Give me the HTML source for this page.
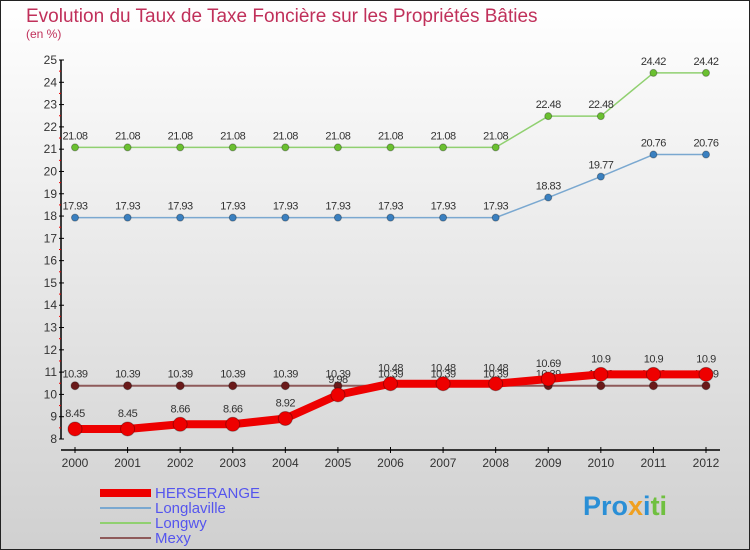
<!DOCTYPE html>
<html><head><meta charset="utf-8"><style>
body{margin:0}
#c{width:750px;height:550px;position:relative;overflow:hidden;font-family:"Liberation Sans",sans-serif}
</style></head><body>
<div id="c">
<svg id="s" width="750" height="550" xmlns="http://www.w3.org/2000/svg">
<defs><linearGradient id="bg" x1="0" y1="0" x2="0" y2="1"><stop offset="0" stop-color="#ffffff"/><stop offset="1" stop-color="#d0d0d0"/></linearGradient></defs>
<rect x="0.5" y="0.5" width="749" height="549" fill="url(#bg)" stroke="#222"/>
<text x="26" y="22" font-size="19" fill="#c0305a">Evolution du Taux de Taxe Foncière sur les Propriétés Bâties</text>
<text x="26" y="38" font-size="12" fill="#c0305a">(en %)</text>
<g id="axes"></g><g id="series"></g><g id="legend"></g>
<text x="583" y="515" font-size="27" font-weight="bold" fill="#2a8fd6">Pro<tspan fill="#f0a020">x</tspan><tspan fill="#2a8fd6">i</tspan><tspan fill="#70c040">ti</tspan></text>
</svg>
</div>
<script>
const years=[2000,2001,2002,2003,2004,2005,2006,2007,2008,2009,2010,2011,2012];
const herserange=[8.45,8.45,8.66,8.66,8.92,9.98,10.48,10.48,10.48,10.69,10.9,10.9,10.9];
const longlaville=[17.93,17.93,17.93,17.93,17.93,17.93,17.93,17.93,17.93,18.83,19.77,20.76,20.76];
const longwy=[21.08,21.08,21.08,21.08,21.08,21.08,21.08,21.08,21.08,22.48,22.48,24.42,24.42];
const mexy=[10.39,10.39,10.39,10.39,10.39,10.39,10.39,10.39,10.39,10.39,10.39,10.39,10.39];
const yTicks=[8,9,10,11,12,13,14,15,16,17,18,19,20,21,22,23,24,25];
const NS="http://www.w3.org/2000/svg";
const X=i=>75+i*(706-75)/(years.length-1);
const Y=v=>439-(v-8)*(439-60)/17;
function mk(t,a,p){const e=document.createElementNS(NS,t);for(const k in a)e.setAttribute(k,a[k]);p.appendChild(e);return e;}
const ax=document.getElementById('axes');
let e=mk('line',{x1:61,y1:Y(25),x2:61,y2:Y(8),stroke:'#000','stroke-width':1.5},ax);


e=mk('line',{x1:61,y1:450,x2:720,y2:450,stroke:'#000','stroke-width':1.5},ax);


yTicks.forEach(v=>{
 mk('line',{x1:59,y1:Y(v),x2:64,y2:Y(v),stroke:'#000'},ax);
 if(v<25) mk('line',{x1:59,y1:Y(v+0.5),x2:61,y2:Y(v+0.5),stroke:'#e00'},ax);
 const t=mk('text',{x:57,y:Y(v)+4,'font-size':12,'text-anchor':'end',fill:'#333'},ax);t.textContent=v;
 
 
});
years.forEach((yr,i)=>{
 mk('line',{x1:X(i),y1:447,x2:X(i),y2:453,stroke:'#000'},ax);
 const t=mk('text',{x:X(i),y:467,'font-size':12,'text-anchor':'middle',fill:'#333'},ax);t.textContent=yr;
 
 
});
const sg=document.getElementById('series');
function draw(name,data,col,dot,w,r,lblOff){
 const g=mk('g',{},sg);
 
 
 mk('polyline',{points:data.map((v,i)=>X(i)+','+Y(v)).join(' '),fill:'none',stroke:col,'stroke-width':w,'stroke-linejoin':'round'},g);
 data.forEach((v,i)=>{
  const c=mk('circle',{cx:X(i),cy:Y(v),r:r,fill:dot,stroke:'rgba(0,0,0,0.3)'},g);
  
  
  const t=mk('text',{x:X(i),y:Y(v)-lblOff,'font-size':11,'text-anchor':'middle',fill:'#333','letter-spacing':'-0.5'},g);t.textContent=v;
 });
}
draw('mexy',mexy,'#8e5a5a','#6a1a1a',2,4,8);
draw('longlaville',longlaville,'#7aa8d0','#3a80c0',1.5,3.5,8);
draw('longwy',longwy,'#90d070','#6ac030',1.5,3.5,8);
draw('herserange',herserange,'#ee0000','#ee0000',8,7,12);
const lg=document.getElementById('legend');
[['HERSERANGE','#ee0000',8],['Longlaville','#7aa8d0',2],['Longwy','#90d070',2],['Mexy','#8e5a5a',2]].forEach((d,i)=>{
 const g=mk('g',{},lg);
 
 
 const y=493+i*15;
 mk('line',{x1:100,y1:y,x2:151,y2:y,stroke:d[1],'stroke-width':d[2]},g);
 const t=mk('text',{x:155,y:y+5,'font-size':15,fill:'#5555ee'},g);t.textContent=d[0];
});
</script>
</body></html>
